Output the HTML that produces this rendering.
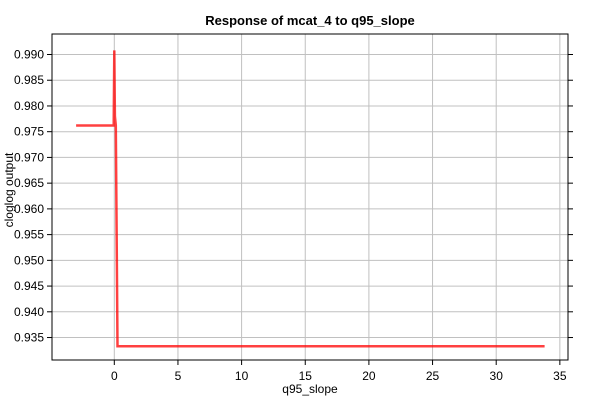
<!DOCTYPE html>
<html><head><meta charset="utf-8"><style>
body{margin:0;background:#fff;font-family:"Liberation Sans",sans-serif}
text{font-family:"Liberation Sans",sans-serif;font-size:12px;fill:#000}
</style></head><body>
<svg id="chart" width="600" height="400">
<text x="310" y="25" text-anchor="middle" style="font-weight:bold;font-size:13px">Response of mcat_4 to q95_slope</text>
<g id="grid"></g>
<g id="axes"></g>
<path id="line" fill="none" stroke="#ff0000" stroke-opacity="0.75" stroke-width="2.5"/>
<text x="310" y="393" text-anchor="middle">q95_slope</text>
<text transform="translate(13,190) rotate(-90)" text-anchor="middle">cloglog output</text>
</svg>
<script>
const xVals=[-3,-0.05,0.0,0.05,0.12,0.25,33.8];
const yVals=[0.9762,0.9762,0.9908,0.978,0.9762,0.9333,0.9333];
const xTicks=[0,5,10,15,20,25,30,35];
const yTicks=[0.935,0.94,0.945,0.95,0.955,0.96,0.965,0.97,0.975,0.98,0.985,0.99];
const L=52,R=568,T=34,B=360;
const sx=v=>114.3+v*12.73;
const sy=v=>54.5+(0.990-v)*5146;
const ns='http://www.w3.org/2000/svg';
const g=document.getElementById('grid'),a=document.getElementById('axes');
function mk(p,tag,at){const e=document.createElementNS(ns,tag);for(const k in at)e.setAttribute(k,at[k]);p.appendChild(e);return e;}
xTicks.forEach(t=>{const x=sx(t);
const l=mk(g,'line',{x1:x,x2:x,y1:T,y2:B,stroke:'#c0c0c0'});


mk(a,'line',{x1:x,x2:x,y1:B,y2:B+5,stroke:'#000'});
const tx=mk(a,'text',{x:x,y:B+20,'text-anchor':'middle'});tx.textContent=t;

});
yTicks.forEach(t=>{const y=sy(t);
const l=mk(g,'line',{x1:L,x2:R,y1:y,y2:y,stroke:'#c0c0c0'});


mk(a,'line',{x1:L-5,x2:L,y1:y,y2:y,stroke:'#000'});
mk(a,'line',{x1:R,x2:R+5,y1:y,y2:y,stroke:'#000'});
const tx=mk(a,'text',{x:L-8,y:y+4,'text-anchor':'end'});tx.textContent=t.toFixed(3);

});
const fr=mk(a,'rect',{x:L,y:T,width:R-L,height:B-T,fill:'none',stroke:'#000'});


document.getElementById('line').setAttribute('d',xVals.map((v,i)=>(i?'L':'M')+sx(v).toFixed(1)+','+sy(yVals[i]).toFixed(1)).join(''));
</script>
</body></html>
